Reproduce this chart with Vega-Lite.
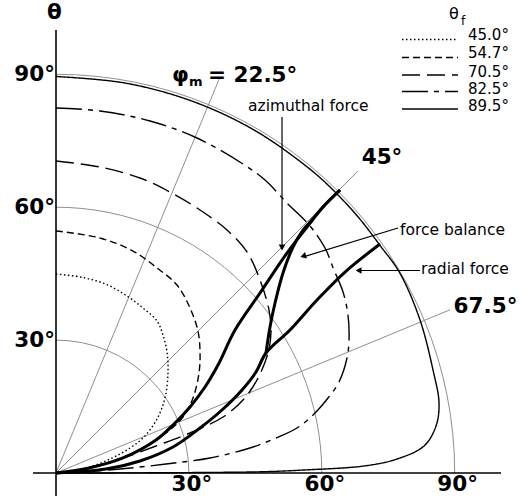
{
  "$schema": "https://vega.github.io/schema/vega-lite/v6.json",
  "width": 472,
  "height": 473,
  "autosize": "none",
  "padding": {"left": 56, "top": 0, "right": 0, "bottom": 31},
  "background": "white",
  "config": {"view": {"stroke": null}, "text": {"font": "DejaVu Sans", "color": "black"}},
  "datasets": {
    "rings": [{"r": 30, "x": 0, "y": 0}, {"r": 60, "x": 0, "y": 0}, {"r": 90, "x": 0, "y": 0}],
    "spokes": [{"phi": 22.5, "x": 0, "y": 0, "x2": 36.85, "y2": 88.97}, {"phi": 45, "x": 0, "y": 0, "x2": 68.1, "y2": 68.1}, {"phi": 67.5, "x": 0, "y": 0, "x2": 88.97, "y2": 36.85}],
    "axes": [{"x": -5.19, "y": 0, "x2": 100.45, "y2": 0}, {"x": 0, "y": -5.19, "x2": 0, "y2": 100.0}],
    "arrows": [{"x": 51.02, "y": 80.36, "x2": 51.02, "y2": 51.5}, {"x": 77.2, "y": 55.3, "x2": 56.2, "y2": 48.9}, {"x": 82.17, "y": 45.71, "x2": 68.6, "y2": 45.71}],
    "heads": [{"a": "down", "x": 51.02, "y": 50.9}, {"a": "slant", "x": 55.8, "y": 48.95}, {"a": "left", "x": 68.3, "y": 45.71}],
    "curves": [
      {"tf": "45.0°", "i": 0, "x": 0, "y": 44.92}, {"tf": "45.0°", "i": 1, "x": 6.09, "y": 44.13}, {"tf": "45.0°", "i": 2, "x": 11.51, "y": 42.51}, {"tf": "45.0°", "i": 3, "x": 16.03, "y": 39.95}, {"tf": "45.0°", "i": 4, "x": 19.64, "y": 37.25}, {"tf": "45.0°", "i": 5, "x": 22.8, "y": 34.31}, {"tf": "45.0°", "i": 6, "x": 24.15, "y": 31.15}, {"tf": "45.0°", "i": 7, "x": 25.06, "y": 27.31}, {"tf": "45.0°", "i": 8, "x": 25.28, "y": 22.57}, {"tf": "45.0°", "i": 9, "x": 24.6, "y": 16.93}, {"tf": "45.0°", "i": 10, "x": 22.8, "y": 12.19}, {"tf": "45.0°", "i": 11, "x": 19.86, "y": 8.13}, {"tf": "45.0°", "i": 12, "x": 16.7, "y": 5.64}, {"tf": "45.0°", "i": 13, "x": 12.19, "y": 3.16}, {"tf": "45.0°", "i": 14, "x": 6.09, "y": 0.9}, {"tf": "45.0°", "i": 15, "x": 0, "y": 0},
      {"tf": "54.7°", "i": 0, "x": 0, "y": 54.63}, {"tf": "54.7°", "i": 1, "x": 9.93, "y": 53.05}, {"tf": "54.7°", "i": 2, "x": 17.38, "y": 50.11}, {"tf": "54.7°", "i": 3, "x": 22.8, "y": 46.28}, {"tf": "54.7°", "i": 4, "x": 27.31, "y": 42.44}, {"tf": "54.7°", "i": 5, "x": 30.25, "y": 37.25}, {"tf": "54.7°", "i": 6, "x": 32.05, "y": 32.05}, {"tf": "54.7°", "i": 7, "x": 32.51, "y": 27.31}, {"tf": "54.7°", "i": 8, "x": 32.28, "y": 22.57}, {"tf": "54.7°", "i": 9, "x": 30.93, "y": 16.93}, {"tf": "54.7°", "i": 10, "x": 28.67, "y": 12.64}, {"tf": "54.7°", "i": 11, "x": 24.83, "y": 9.03}, {"tf": "54.7°", "i": 12, "x": 19.64, "y": 5.64}, {"tf": "54.7°", "i": 13, "x": 13.54, "y": 2.93}, {"tf": "54.7°", "i": 14, "x": 7.45, "y": 1.13}, {"tf": "54.7°", "i": 15, "x": 0, "y": 0},
      {"tf": "70.5°", "i": 0, "x": 0, "y": 70.43}, {"tf": "70.5°", "i": 1, "x": 9.93, "y": 69.07}, {"tf": "70.5°", "i": 2, "x": 18.96, "y": 66.59}, {"tf": "70.5°", "i": 3, "x": 25.73, "y": 63.43}, {"tf": "70.5°", "i": 4, "x": 32.51, "y": 59.37}, {"tf": "70.5°", "i": 5, "x": 38.6, "y": 54.85}, {"tf": "70.5°", "i": 6, "x": 43.12, "y": 49.89}, {"tf": "70.5°", "i": 7, "x": 46.05, "y": 43.57}, {"tf": "70.5°", "i": 8, "x": 48.08, "y": 36.79}, {"tf": "70.5°", "i": 9, "x": 48.53, "y": 31.83}, {"tf": "70.5°", "i": 10, "x": 47.86, "y": 27.09}, {"tf": "70.5°", "i": 11, "x": 45.37, "y": 20.99}, {"tf": "70.5°", "i": 12, "x": 42.21, "y": 16.48}, {"tf": "70.5°", "i": 13, "x": 37.7, "y": 12.64}, {"tf": "70.5°", "i": 14, "x": 30.25, "y": 9.03}, {"tf": "70.5°", "i": 15, "x": 22.57, "y": 6.09}, {"tf": "70.5°", "i": 16, "x": 14.45, "y": 3.16}, {"tf": "70.5°", "i": 17, "x": 6.55, "y": 0.9}, {"tf": "70.5°", "i": 18, "x": 0, "y": 0},
      {"tf": "82.5°", "i": 0, "x": 0, "y": 82.39}, {"tf": "82.5°", "i": 1, "x": 9.93, "y": 81.72}, {"tf": "82.5°", "i": 2, "x": 21.22, "y": 79.46}, {"tf": "82.5°", "i": 3, "x": 31.83, "y": 75.62}, {"tf": "82.5°", "i": 4, "x": 42.21, "y": 69.75}, {"tf": "82.5°", "i": 5, "x": 47.18, "y": 66.14}, {"tf": "82.5°", "i": 6, "x": 52.14, "y": 60.95}, {"tf": "82.5°", "i": 7, "x": 57.34, "y": 55.76}, {"tf": "82.5°", "i": 8, "x": 60.72, "y": 50.79}, {"tf": "82.5°", "i": 9, "x": 62.75, "y": 45.82}, {"tf": "82.5°", "i": 10, "x": 64.79, "y": 40.86}, {"tf": "82.5°", "i": 11, "x": 65.91, "y": 35.67}, {"tf": "82.5°", "i": 12, "x": 66.14, "y": 30.02}, {"tf": "82.5°", "i": 13, "x": 65.69, "y": 25.96}, {"tf": "82.5°", "i": 14, "x": 63.88, "y": 20.54}, {"tf": "82.5°", "i": 15, "x": 61.4, "y": 16.93}, {"tf": "82.5°", "i": 16, "x": 58.24, "y": 13.32}, {"tf": "82.5°", "i": 17, "x": 54.4, "y": 10.16}, {"tf": "82.5°", "i": 18, "x": 49.66, "y": 7.9}, {"tf": "82.5°", "i": 19, "x": 43.79, "y": 5.64}, {"tf": "82.5°", "i": 20, "x": 34.76, "y": 3.39}, {"tf": "82.5°", "i": 21, "x": 24.83, "y": 2.03}, {"tf": "82.5°", "i": 22, "x": 14.45, "y": 0.9}, {"tf": "82.5°", "i": 23, "x": 5.42, "y": 0.23}, {"tf": "82.5°", "i": 24, "x": 0, "y": 0},
      {"tf": "89.5°", "i": 0, "x": 0, "y": 89.5}, {"tf": "89.5°", "i": 1, "x": 15.53, "y": 88.04}, {"tf": "89.5°", "i": 2, "x": 30.56, "y": 84.0}, {"tf": "89.5°", "i": 3, "x": 44.7, "y": 77.43}, {"tf": "89.5°", "i": 4, "x": 57.45, "y": 68.49}, {"tf": "89.5°", "i": 5, "x": 63.21, "y": 63.21}, {"tf": "89.5°", "i": 6, "x": 68.49, "y": 57.45}, {"tf": "89.5°", "i": 7, "x": 73.23, "y": 51.26}, {"tf": "89.5°", "i": 8, "x": 77.65, "y": 45.08}, {"tf": "89.5°", "i": 9, "x": 82.17, "y": 34.54}, {"tf": "89.5°", "i": 10, "x": 85.1, "y": 23.25}, {"tf": "89.5°", "i": 11, "x": 86.46, "y": 15.8}, {"tf": "89.5°", "i": 12, "x": 85.78, "y": 10.61}, {"tf": "89.5°", "i": 13, "x": 83.07, "y": 6.09}, {"tf": "89.5°", "i": 14, "x": 76.98, "y": 3.16}, {"tf": "89.5°", "i": 15, "x": 69.53, "y": 1.58}, {"tf": "89.5°", "i": 16, "x": 55.98, "y": 0.68}, {"tf": "89.5°", "i": 17, "x": 46.95, "y": 0.29}, {"tf": "89.5°", "i": 18, "x": 32.51, "y": 0.11}, {"tf": "89.5°", "i": 19, "x": 14.45, "y": 0.02}, {"tf": "89.5°", "i": 20, "x": 0, "y": 0}
    ],
    "thick": [
      {"c": "azimuthal", "i": 0, "x": 0, "y": 0}, {"c": "azimuthal", "i": 1, "x": 7.45, "y": 1.13}, {"c": "azimuthal", "i": 2, "x": 15.12, "y": 3.39}, {"c": "azimuthal", "i": 3, "x": 22.57, "y": 7.45}, {"c": "azimuthal", "i": 4, "x": 26.86, "y": 11.29}, {"c": "azimuthal", "i": 5, "x": 30.25, "y": 14.9}, {"c": "azimuthal", "i": 6, "x": 33.63, "y": 19.41}, {"c": "azimuthal", "i": 7, "x": 36.57, "y": 24.38}, {"c": "azimuthal", "i": 8, "x": 40.41, "y": 32.28}, {"c": "azimuthal", "i": 9, "x": 46.05, "y": 40.63}, {"c": "azimuthal", "i": 10, "x": 52.14, "y": 49.66}, {"c": "azimuthal", "i": 11, "x": 56.66, "y": 55.53}, {"c": "azimuthal", "i": 12, "x": 60.27, "y": 60.05}, {"c": "azimuthal", "i": 13, "x": 64.11, "y": 63.88},
      {"c": "radial", "i": 0, "x": 0, "y": 0}, {"c": "radial", "i": 1, "x": 11.29, "y": 0.9}, {"c": "radial", "i": 2, "x": 18.96, "y": 2.71}, {"c": "radial", "i": 3, "x": 26.41, "y": 5.87}, {"c": "radial", "i": 4, "x": 32.51, "y": 10.16}, {"c": "radial", "i": 5, "x": 37.47, "y": 14.22}, {"c": "radial", "i": 6, "x": 41.99, "y": 18.74}, {"c": "radial", "i": 7, "x": 45.15, "y": 22.8}, {"c": "radial", "i": 8, "x": 47.4, "y": 27.09}, {"c": "radial", "i": 9, "x": 52.82, "y": 32.28}, {"c": "radial", "i": 10, "x": 58.92, "y": 39.05}, {"c": "radial", "i": 11, "x": 65.24, "y": 45.37}, {"c": "radial", "i": 12, "x": 73.14, "y": 51.69},
      {"c": "balance", "i": 0, "x": 47.4, "y": 27.09}, {"c": "balance", "i": 1, "x": 48.31, "y": 32.96}, {"c": "balance", "i": 2, "x": 49.44, "y": 38.37}, {"c": "balance", "i": 3, "x": 51.24, "y": 45.15}, {"c": "balance", "i": 4, "x": 53.5, "y": 51.02}, {"c": "balance", "i": 5, "x": 55.76, "y": 54.85}, {"c": "balance", "i": 6, "x": 57.79, "y": 57.11}, {"c": "balance", "i": 7, "x": 60.27, "y": 60.05}, {"c": "balance", "i": 8, "x": 64.11, "y": 63.88}
    ],
    "key": [
      {"tf": "45.0°", "x": 78.1, "y": 97.86}, {"tf": "45.0°", "x": 90.74, "y": 97.86},
      {"tf": "54.7°", "x": 78.1, "y": 93.79}, {"tf": "54.7°", "x": 90.74, "y": 93.79},
      {"tf": "70.5°", "x": 78.1, "y": 89.84}, {"tf": "70.5°", "x": 90.74, "y": 89.84},
      {"tf": "82.5°", "x": 78.1, "y": 86.12}, {"tf": "82.5°", "x": 90.74, "y": 86.12},
      {"tf": "89.5°", "x": 78.1, "y": 82.17}, {"tf": "89.5°", "x": 90.74, "y": 82.17}
    ],
    "keylabels": [
      {"t": "45.0°", "x": 93.0, "y": 98.87}, {"t": "54.7°", "x": 93.0, "y": 94.7}, {"t": "70.5°", "x": 93.0, "y": 90.52}, {"t": "82.5°", "x": 93.0, "y": 86.68}, {"t": "89.5°", "x": 93.0, "y": 82.84}
    ],
    "yticks": [{"x": 0, "y": 30, "t": "30°"}, {"x": 0, "y": 60, "t": "60°"}, {"x": 0, "y": 90, "t": "90°"}],
    "xticks": [{"x": 30, "y": 0, "t": "30°"}, {"x": 60, "y": 0, "t": "60°"}, {"x": 90, "y": 0, "t": "90°"}],
    "bold": [{"t": "θ", "x": -0.34, "y": 103.84}, {"t": "45°", "x": 73.59, "y": 71.11}, {"t": "67.5°", "x": 96.95, "y": 37.47}],
    "phi": [{"t": "φ", "x": 26.19, "y": 88.26}, {"t": "= 22.5°", "x": 34.31, "y": 88.26}],
    "sub": [{"t": "m", "x": 30.02, "y": 87.36}],
    "notes": [{"t": "azimuthal force", "x": 43.34, "y": 82.84}, {"t": "force balance", "x": 77.65, "y": 54.85}, {"t": "radial force", "x": 82.39, "y": 45.94}],
    "keytitle": [{"t": "θ", "x": 89.84, "y": 103.61}],
    "keysub": [{"t": "f", "x": 91.87, "y": 102.03}]
  },
  "layer": [
    {
      "data": {"name": "rings"},
      "mark": {"type": "point", "shape": "circle", "filled": false, "color": "#8f8f8f", "strokeWidth": 1, "opacity": 1, "clip": true},
      "encoding": {
        "x": {"field": "x", "type": "quantitative", "scale": {"domain": [0, 106.546], "nice": false, "zero": false}, "axis": null},
        "y": {"field": "y", "type": "quantitative", "scale": {"domain": [0, 106.772], "nice": false, "zero": false}, "axis": null},
        "size": {"field": "r", "type": "quantitative", "scale": {"type": "pow", "exponent": 2, "domain": [0, 90], "range": [0, 635847], "zero": true, "nice": false}, "legend": null}
      }
    },
    {
      "data": {"name": "spokes"},
      "mark": {"type": "rule", "color": "#8f8f8f", "strokeWidth": 1},
      "encoding": {
        "x": {"field": "x", "type": "quantitative"},
        "y": {"field": "y", "type": "quantitative"},
        "x2": {"field": "x2"},
        "y2": {"field": "y2"}
      }
    },
    {
      "data": {"name": "curves"},
      "mark": {"type": "line", "color": "black", "strokeWidth": 1.4, "interpolate": "catmull-rom"},
      "encoding": {
        "x": {"field": "x", "type": "quantitative"},
        "y": {"field": "y", "type": "quantitative"},
        "order": {"field": "i", "type": "quantitative"},
        "detail": {"field": "tf"},
        "strokeDash": {"field": "tf", "type": "nominal", "scale": {"domain": ["45.0°", "54.7°", "70.5°", "82.5°", "89.5°"], "range": [[1.5, 2.5], [7, 4], [18, 7], [26, 6, 5, 6], [1, 0]]}, "legend": null}
      }
    },
    {
      "data": {"name": "key"},
      "mark": {"type": "line", "color": "black", "strokeWidth": 1.4},
      "encoding": {
        "x": {"field": "x", "type": "quantitative"},
        "y": {"field": "y", "type": "quantitative"},
        "detail": {"field": "tf"},
        "strokeDash": {"field": "tf", "type": "nominal", "scale": {"domain": ["45.0°", "54.7°", "70.5°", "82.5°", "89.5°"], "range": [[1.5, 2.5], [7, 4], [18, 7], [26, 6, 5, 6], [1, 0]]}, "legend": null}
      }
    },
    {
      "data": {"name": "thick"},
      "mark": {"type": "line", "color": "black", "strokeWidth": 3, "interpolate": "catmull-rom"},
      "encoding": {
        "x": {"field": "x", "type": "quantitative"},
        "y": {"field": "y", "type": "quantitative"},
        "order": {"field": "i", "type": "quantitative"},
        "detail": {"field": "c"}
      }
    },
    {
      "data": {"name": "axes"},
      "mark": {"type": "rule", "color": "black", "strokeWidth": 1.6},
      "encoding": {
        "x": {"field": "x", "type": "quantitative"},
        "y": {"field": "y", "type": "quantitative"},
        "x2": {"field": "x2"},
        "y2": {"field": "y2"}
      }
    },
    {
      "data": {"name": "arrows"},
      "mark": {"type": "rule", "color": "black", "strokeWidth": 1.2},
      "encoding": {
        "x": {"field": "x", "type": "quantitative"},
        "y": {"field": "y", "type": "quantitative"},
        "x2": {"field": "x2"},
        "y2": {"field": "y2"}
      }
    },
    {
      "data": {"name": "heads"},
      "transform": [{"filter": "datum.a === 'down'"}],
      "mark": {"type": "point", "shape": "triangle-down", "filled": true, "color": "black", "size": 45, "opacity": 1},
      "encoding": {"x": {"field": "x", "type": "quantitative"}, "y": {"field": "y", "type": "quantitative"}}
    },
    {
      "data": {"name": "heads"},
      "transform": [{"filter": "datum.a === 'slant'"}],
      "mark": {"type": "point", "shape": "triangle-left", "angle": -17, "filled": true, "color": "black", "size": 45, "opacity": 1},
      "encoding": {"x": {"field": "x", "type": "quantitative"}, "y": {"field": "y", "type": "quantitative"}}
    },
    {
      "data": {"name": "heads"},
      "transform": [{"filter": "datum.a === 'left'"}],
      "mark": {"type": "point", "shape": "triangle-left", "filled": true, "color": "black", "size": 45, "opacity": 1},
      "encoding": {"x": {"field": "x", "type": "quantitative"}, "y": {"field": "y", "type": "quantitative"}}
    },
    {
      "data": {"name": "yticks"},
      "mark": {"type": "text", "font": "DejaVu Sans", "fontWeight": "bold", "fontSize": 21.5, "align": "right", "baseline": "middle", "dx": -1, "dy": 0.5},
      "encoding": {"x": {"field": "x", "type": "quantitative"}, "y": {"field": "y", "type": "quantitative"}, "text": {"field": "t"}}
    },
    {
      "data": {"name": "xticks"},
      "mark": {"type": "text", "font": "DejaVu Sans", "fontWeight": "bold", "fontSize": 21.5, "align": "center", "baseline": "top", "dx": 3, "dy": 1},
      "encoding": {"x": {"field": "x", "type": "quantitative"}, "y": {"field": "y", "type": "quantitative"}, "text": {"field": "t"}}
    },
    {
      "data": {"name": "bold"},
      "mark": {"type": "text", "font": "DejaVu Sans", "fontWeight": "bold", "fontSize": 21.5, "align": "center", "baseline": "middle"},
      "encoding": {"x": {"field": "x", "type": "quantitative"}, "y": {"field": "y", "type": "quantitative"}, "text": {"field": "t"}}
    },
    {
      "data": {"name": "phi"},
      "mark": {"type": "text", "font": "DejaVu Sans", "fontWeight": "bold", "fontSize": 21.5, "align": "left", "baseline": "alphabetic"},
      "encoding": {"x": {"field": "x", "type": "quantitative"}, "y": {"field": "y", "type": "quantitative"}, "text": {"field": "t"}}
    },
    {
      "data": {"name": "sub"},
      "mark": {"type": "text", "font": "DejaVu Sans", "fontWeight": "bold", "fontSize": 13, "align": "left", "baseline": "alphabetic"},
      "encoding": {"x": {"field": "x", "type": "quantitative"}, "y": {"field": "y", "type": "quantitative"}, "text": {"field": "t"}}
    },
    {
      "data": {"name": "notes"},
      "mark": {"type": "text", "font": "DejaVu Sans", "fontSize": 15.5, "align": "left", "baseline": "middle"},
      "encoding": {"x": {"field": "x", "type": "quantitative"}, "y": {"field": "y", "type": "quantitative"}, "text": {"field": "t"}}
    },
    {
      "data": {"name": "keylabels"},
      "mark": {"type": "text", "font": "DejaVu Sans", "fontSize": 15, "align": "left", "baseline": "middle"},
      "encoding": {"x": {"field": "x", "type": "quantitative"}, "y": {"field": "y", "type": "quantitative"}, "text": {"field": "t"}}
    },
    {
      "data": {"name": "keytitle"},
      "mark": {"type": "text", "font": "DejaVu Sans", "fontSize": 16, "align": "center", "baseline": "middle"},
      "encoding": {"x": {"field": "x", "type": "quantitative"}, "y": {"field": "y", "type": "quantitative"}, "text": {"field": "t"}}
    },
    {
      "data": {"name": "keysub"},
      "mark": {"type": "text", "font": "DejaVu Sans", "fontSize": 12, "align": "center", "baseline": "middle"},
      "encoding": {"x": {"field": "x", "type": "quantitative"}, "y": {"field": "y", "type": "quantitative"}, "text": {"field": "t"}}
    }
  ]
}
